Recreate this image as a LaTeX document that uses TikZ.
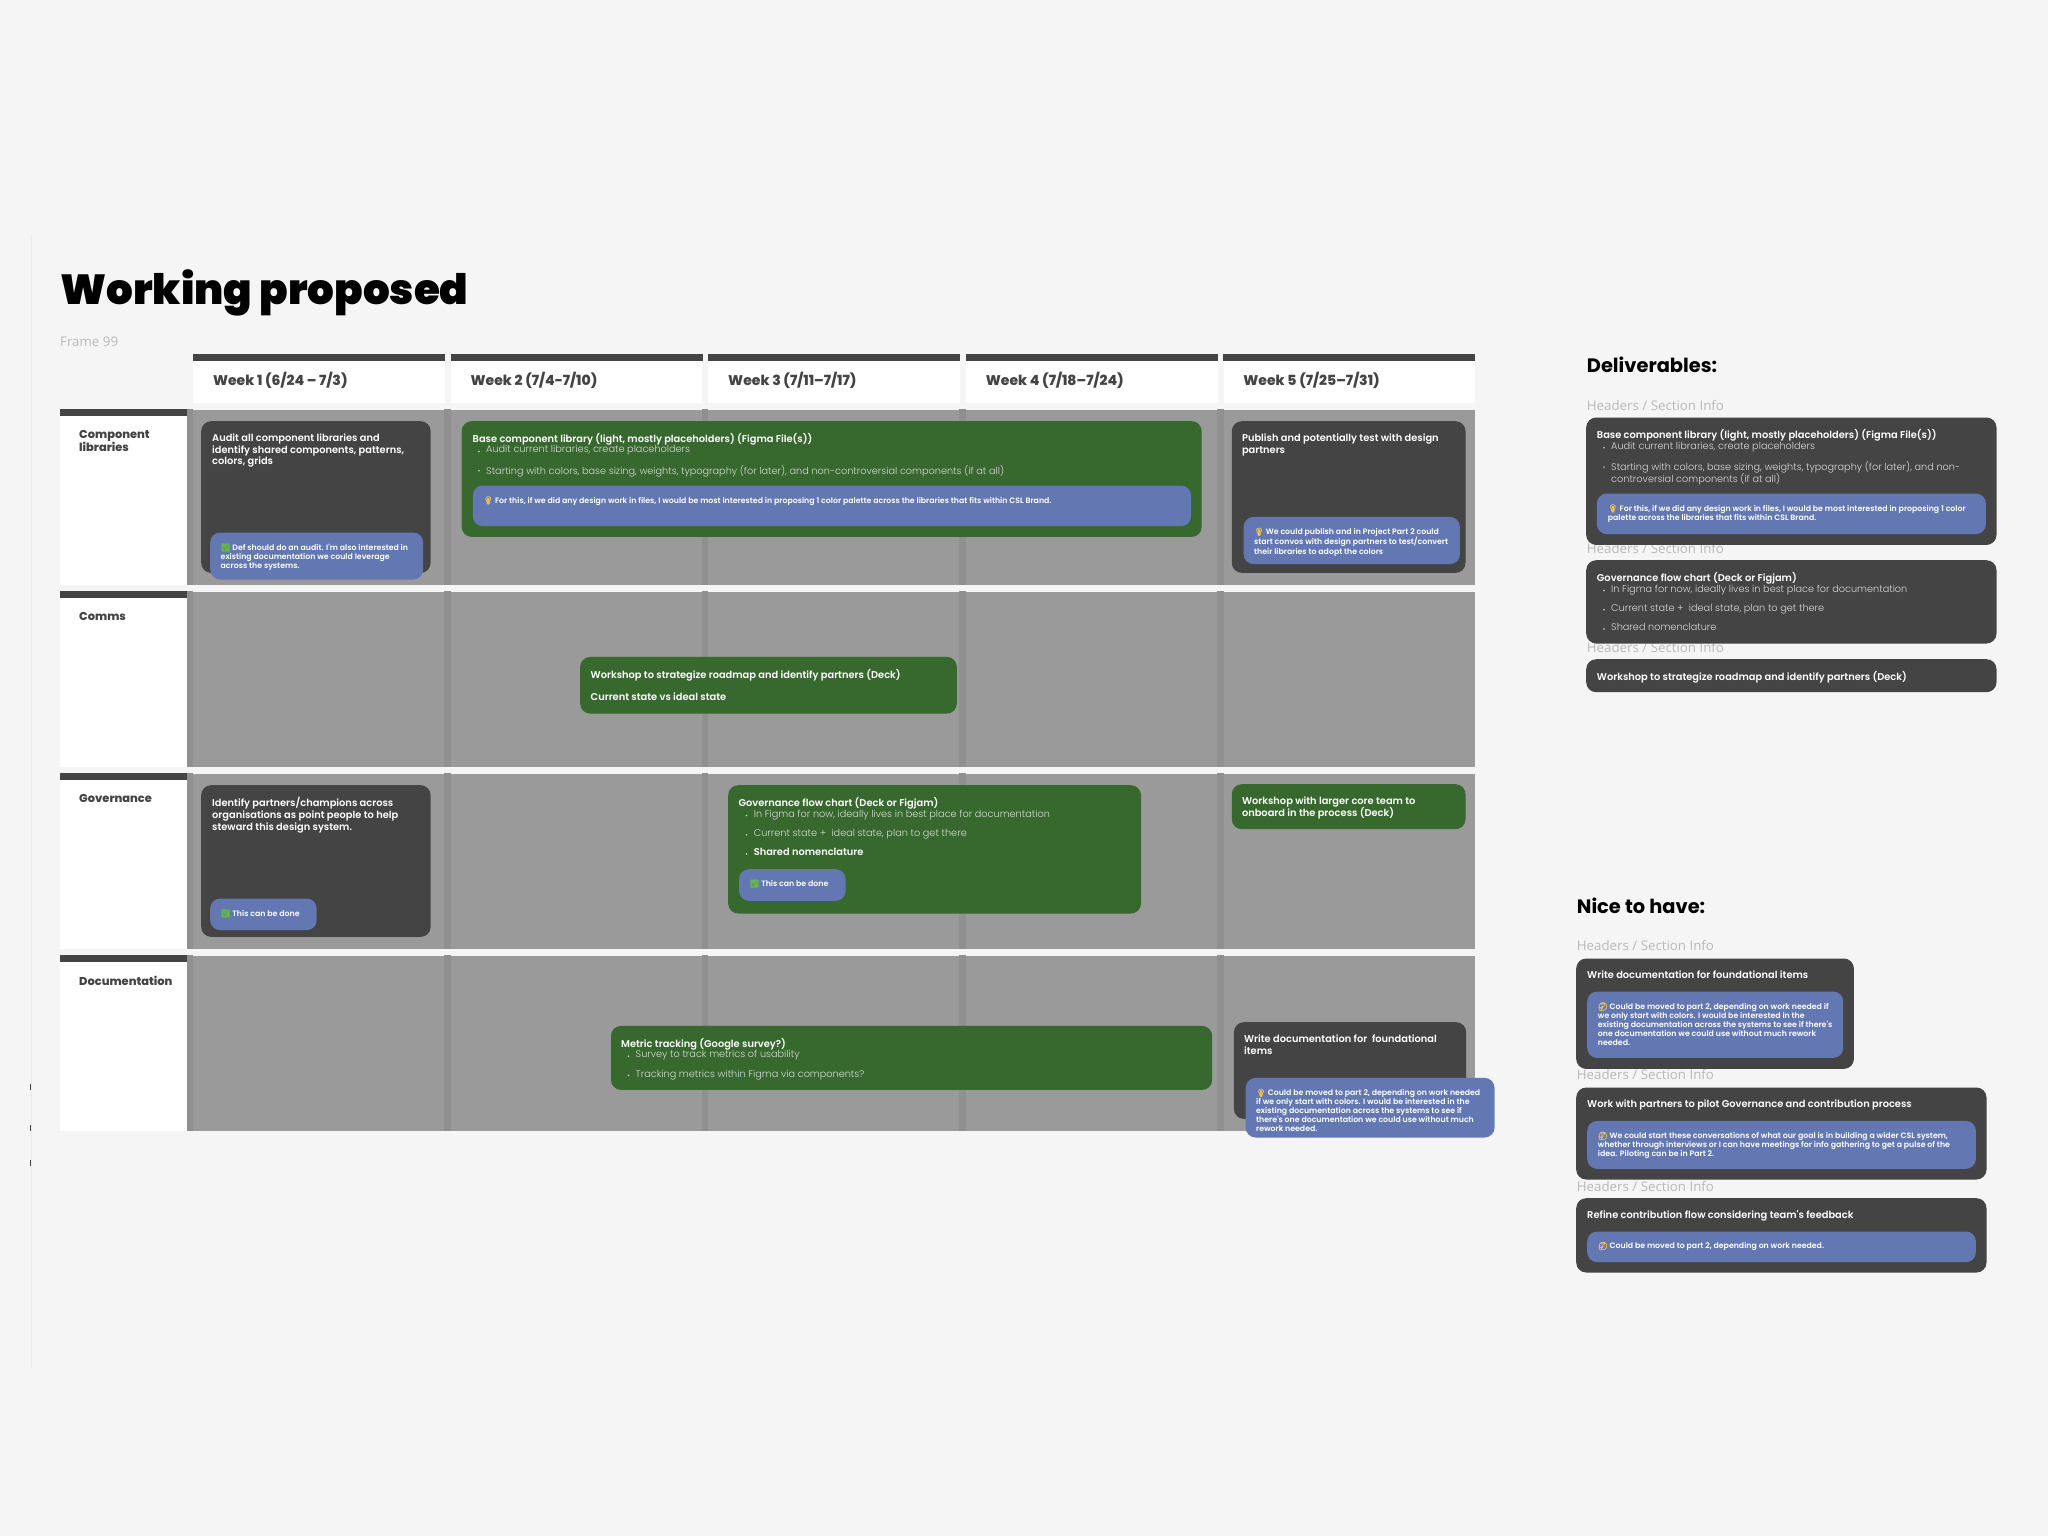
\documentclass[tikz,border=0pt]{standalone}
\usepackage{fontspec}
\setmainfont{Poppins}
\newfontfamily\emojifont{Noto Emoji}[RawFeature={embolden=3}]
\newfontfamily\semifont{Poppins SemiBold}
\newfontfamily\lightfont{Poppins Light}
\newfontfamily\extrafont{Poppins ExtraBold}
\newfontfamily\blackfont{Poppins Black}
\newfontfamily\sectionfont{Open Sans}
\usetikzlibrary{positioning}
\definecolor{pagebg}{HTML}{F5F5F5}
\definecolor{darkc}{HTML}{444444}
\definecolor{greenc}{HTML}{37682E}
\definecolor{bluec}{HTML}{6378B2}
\definecolor{rowc}{HTML}{9A9A9A}
\definecolor{bandc}{HTML}{909090}
\definecolor{mutedc}{HTML}{B8B8B8}
\definecolor{bulbc}{HTML}{F2C14E}
\definecolor{tickc}{HTML}{62B64A}
\newcommand{\bulb}{{\emojifont\color{bulbc}\symbol{"1F4A1}}}
\newcommand{\tick}{{\emojifont\color{tickc}\symbol{"2705}}}
\newcommand{\think}{{\emojifont\color{bulbc}\symbol{"1F914}}}
\begin{document}
\begin{tikzpicture}[x=1pt,y=-1pt]
    \tikzset{sized/.style 2 args={minimum width=#1pt,minimum height=#2pt},
        card/.style={rectangle,rounded corners=10pt,inner sep=0pt,anchor=north west},
        dcard/.style={card,fill=darkc},
        gcard/.style={card,fill=greenc},
        note/.style={card,fill=bluec},
        txt/.style={inner sep=0pt,anchor=north west,align=left,text=white},
        head/.style={txt,font=\semifont\fontsize{9.85}{11.8}\selectfont},
        item/.style={txt,text=white!85!black,font=\lightfont\fontsize{9.7}{12}\selectfont},
        ntxt/.style={txt,font=\semifont\fontsize{7.8}{9.1}\selectfont},
        week/.style={txt,text=darkc,anchor=west,font=\extrafont\fontsize{14}{16}\selectfont},
        rowlabel/.style={txt,text=darkc,font=\extrafont\fontsize{11.4}{13.3}\selectfont},
        section/.style={txt,text=mutedc,anchor=west,font=\sectionfont\fontsize{13.3}{15}\selectfont},
        bigh/.style={txt,text=black,anchor=base west,font=\bfseries\fontsize{19.4}{24}\selectfont},
        rowbox/.style={rectangle,fill=rowc,inner sep=0pt,anchor=north west},
        labelbox/.style={rectangle,fill=white,inner sep=0pt,anchor=north west,sized={127}{175.5}},
        listdot/.style={circle,fill=white!85!black,inner sep=0pt,minimum size=1.7pt},
        }
    \fill[pagebg] (0,0) rectangle (2048,1536);
    \useasboundingbox (0,0) rectangle (2048,1536);
    \draw[black!8,line width=1pt] (31.5,234) -- (31.5,1368);
    \foreach \ypos in {1084,1125,1160}
        \fill[darkc] (30,\ypos) rectangle (31,\ypos+6);

    \node [txt,text=black,anchor=base west,font=\blackfont\fontsize{42}{44}\selectfont] (title) at (60,304) {Working proposed};
    \node [section] (frame) at (60,342) {Frame 99};

%% week headers
    \foreach \name/\col/\label in {w1/0/{Week 1 (6/24 – 7/3)},w2/1/{Week 2 (7/4-7/10)},w3/2/{Week 3 (7/11–7/17)},w4/3/{Week 4 (7/18–7/24)},w5/4/{Week 5 (7/25–7/31)}} {
        \node [rectangle,fill=white,inner sep=0pt,anchor=north west,sized={251.5}{48.7}] (\name) at (193+257.6*\col,354) {};
        \fill[darkc] (\name.north west) rectangle ([yshift=-6.7pt]\name.north east);
        \node [week] (\name_txt) at (212.8+257.6*\col,380.7) {\label};
    }

%% rows
    \foreach \name/\ypos in {component/409.3,comms/591.3,governance/773.3,documentation/955.3} {
        \node [labelbox] (\name_lbl) at (59.6,\ypos) {};
        \fill[darkc] (\name_lbl.north west) rectangle ([yshift=-6.7pt]\name_lbl.north east);
        \node [rowbox,sized={1288.4}{175.5}] (\name) at (186.6,\ypos) {};
        \foreach \col in {0,...,4}
            \fill[bandc] ([xshift={(257.6*\col)*1pt}]\name.north west) rectangle ([xshift={(257.6*\col+6.5)*1pt}]\name.south west);
    }
    \node [rowlabel,below right=21pt and 19.4pt of component_lbl.north west] (component_txt) {Component\\libraries};
    \node [rowlabel,below right=21pt and 19.4pt of comms_lbl.north west] (comms_txt) {Comms};
    \node [rowlabel,below right=21pt and 19.4pt of governance_lbl.north west] (governance_txt) {Governance};
    \node [rowlabel,below right=21pt and 19.4pt of documentation_lbl.north west] (documentation_txt) {Documentation};

%% component libraries row
    \node [dcard,sized={229.4}{151.7}] (audit) at (201,421) {};
    \node [head,below right=12.3pt and 11pt of audit.north west] (audit_txt) {Audit all component libraries and\\identify shared components, patterns,\\colors, grids};
    \node [note,sized={213}{47}] (audit_note) at (210,532.3) {};
    \node [ntxt,below right=11pt and 10.5pt of audit_note.north west] (audit_ntxt) {\tick\ Def should do an audit. I'm also interested in\\existing documentation we could leverage\\across the systems.};

    \node [gcard,sized={740}{115.7}] (base) at (461.5,421) {};
    \node [head,below right=12.3pt and 11pt of base.north west] (base_txt) {Base component library (light, mostly placeholders) (Figma File(s))};
    \node [item,below right=24.5pt and 24.5pt of base.north west] (base_a) {Audit current libraries, create placeholders};
    \node [item,below right=43.8pt and 24.5pt of base.north west] (base_b) {Starting with colors, base sizing, weights, typography (for later), and non-controversial components (if at all)};
    \node [note,sized={718.2}{40.7}] (base_note) at (472.6,485.3) {};
    \node [ntxt,below right=11pt and 10.5pt of base_note.north west] (base_ntxt) {\bulb\ For this, if we did any design work in files, I would be most interested in proposing 1 color palette across the libraries that fits within CSL Brand.};

    \node [dcard,sized={233.7}{151.7}] (publish) at (1231.6,421) {};
    \node [head,below right=12.3pt and 10.2pt of publish.north west] (publish_txt) {Publish and potentially test with design\\partners};
    \node [note,sized={216.3}{47.3}] (publish_note) at (1243.4,516.7) {};
    \node [ntxt,below right=11pt and 10.5pt of publish_note.north west] (publish_ntxt) {\bulb\ We could publish and in Project Part 2 could\\start convos with design partners to test/convert\\their libraries to adopt the colors};

%% comms row
    \node [gcard,sized={376.6}{56.7}] (workshop) at (580,656.7) {};
    \node [head,below right=12pt and 10.5pt of workshop.north west] (workshop_txt) {Workshop to strategize roadmap and identify partners (Deck)};
    \node [head,below right=35.5pt and 10.5pt of workshop.north west] (workshop_sub) {Current state vs ideal state};

%% governance row
    \node [dcard,sized={229.4}{151.7}] (identify) at (201,785) {};
    \node [head,below right=12.3pt and 11pt of identify.north west] (identify_txt) {Identify partners/champions across\\organisations as point people to help\\steward this design system.};
    \node [note,sized={106.5}{31.7}] (identify_note) at (210,898.3) {};
    \node [ntxt,below right=11pt and 10.5pt of identify_note.north west] (identify_ntxt) {\tick\ This can be done};

    \node [gcard,sized={412.8}{128.3}] (flow) at (728,785) {};
    \node [head,below right=12pt and 10.3pt of flow.north west] (flow_txt) {Governance flow chart (Deck or Figjam)};
    \node [item,below right=24.5pt and 25.6pt of flow.north west] (flow_a) {In Figma for now, ideally lives in best place for documentation};
    \node [item,below right=43.8pt and 25.6pt of flow.north west] (flow_b) {Current state + \ ideal state, plan to get there};
    \node [head,below right=63pt and 25.6pt of flow.north west] (flow_c) {Shared nomenclature};
    \node [note,sized={106.6}{31.7}] (flow_note) at (738.8,869) {};
    \node [ntxt,below right=10.5pt and 10.5pt of flow_note.north west] (flow_ntxt) {\tick\ This can be done};

    \node [gcard,sized={233.7}{45}] (core) at (1231.6,784) {};
    \node [head,below right=12.3pt and 10.2pt of core.north west] (core_txt) {Workshop with larger core team to\\onboard in the process (Deck)};

%% documentation row
    \node [gcard,sized={601.2}{64}] (metric) at (610.8,1025.7) {};
    \node [head,below right=12pt and 10.2pt of metric.north west] (metric_txt) {Metric tracking (Google survey?)};
    \node [item,below right=24.5pt and 24.7pt of metric.north west] (metric_a) {Survey to track metrics of usability};
    \node [item,below right=43.8pt and 24.7pt of metric.north west] (metric_b) {Tracking metrics within Figma via components?};

    \node [dcard,sized={232.3}{96.7}] (write) at (1233.7,1022) {};
    \node [head,below right=12.3pt and 10.2pt of write.north west] (write_txt) {Write documentation for \ foundational\\items};
    \node [note,sized={249}{59.6}] (write_note) at (1245.4,1077.7) {};
    \node [ntxt,below right=11pt and 10.5pt of write_note.north west] (write_ntxt) {\bulb\ Could be moved to part 2, depending on work needed\\if we only start with colors. I would be interested in the\\existing documentation across the systems to see if\\there's one documentation we could use without much\\rework needed.};

%% deliverables
    \node [bigh] (deliver) at (1586.7,372.7) {Deliverables:};
    \node [section] (deliver_s1) at (1586.7,405.7) {Headers / Section Info};
    \node [section] (deliver_s2) at (1586.7,548.3) {Headers / Section Info};
    \node [section] (deliver_s3) at (1586.7,647.3) {Headers / Section Info};

    \node [dcard,sized={410.3}{127.4}] (d_base) at (1586,417.3) {};
    \node [head,below right=12pt and 10.7pt of d_base.north west] (d_base_txt) {Base component library (light, mostly placeholders) (Figma File(s))};
    \node [item,below right=24.5pt and 25pt of d_base.north west] (d_base_a) {Audit current libraries, create placeholders};
    \node [item,below right=43.8pt and 25pt of d_base.north west] (d_base_b) {Starting with colors, base sizing, weights, typography (for later), and non-\\controversial components (if at all)};
    \node [note,sized={389}{40.7}] (d_base_note) at (1596.7,493.3) {};
    \node [ntxt,below right=11pt and 11pt of d_base_note.north west] (d_base_ntxt) {\bulb\ For this, if we did any design work in files, I would be most interested in proposing 1 color\\palette across the libraries that fits within CSL Brand.};

    \node [dcard,sized={410.3}{83.3}] (d_flow) at (1586,560) {};
    \node [head,below right=12pt and 10.7pt of d_flow.north west] (d_flow_txt) {Governance flow chart (Deck or Figjam)};
    \node [item,below right=24.5pt and 25pt of d_flow.north west] (d_flow_a) {In Figma for now, ideally lives in best place for documentation};
    \node [item,below right=43.8pt and 25pt of d_flow.north west] (d_flow_b) {Current state + \ ideal state, plan to get there};
    \node [item,below right=63pt and 25pt of d_flow.north west] (d_flow_c) {Shared nomenclature};

    \node [dcard,sized={410.3}{33}] (d_work) at (1586,659) {};
    \node [head,below right=12pt and 10.7pt of d_work.north west] (d_work_txt) {Workshop to strategize roadmap and identify partners (Deck)};

%% nice to have
    \node [bigh] (nice) at (1576.7,913.3) {Nice to have:};
    \node [section] (nice_s1) at (1576.7,945.7) {Headers / Section Info};
    \node [section] (nice_s2) at (1576.7,1074.7) {Headers / Section Info};
    \node [section] (nice_s3) at (1576.7,1186) {Headers / Section Info};

    \node [dcard,sized={277.7}{110.4}] (n_write) at (1576,958.3) {};
    \node [head,below right=12pt and 11pt of n_write.north west] (n_write_txt) {Write documentation for foundational items};
    \node [note,sized={256}{66.4}] (n_write_note) at (1587,991.3) {};
    \node [ntxt,below right=11pt and 10.7pt of n_write_note.north west] (n_write_ntxt) {\think\ Could be moved to part 2, depending on work needed if\\we only start with colors. I would be interested in the\\existing documentation across the systems to see if there's\\one documentation we could use without much rework\\needed.};

    \node [dcard,sized={410.3}{92}] (n_pilot) at (1576,1087.3) {};
    \node [head,below right=12pt and 11pt of n_pilot.north west] (n_pilot_txt) {Work with partners to pilot Governance and contribution process};
    \node [note,sized={388.7}{48}] (n_pilot_note) at (1587,1120.7) {};
    \node [ntxt,below right=11pt and 10.7pt of n_pilot_note.north west] (n_pilot_ntxt) {\think\ We could start these conversations of what our goal is in building a wider CSL system,\\whether through interviews or I can have meetings for info gathering to get a pulse of the\\idea. Piloting can be in Part 2.};

    \node [dcard,sized={410.3}{74.3}] (n_refine) at (1576,1198) {};
    \node [head,below right=12pt and 11pt of n_refine.north west] (n_refine_txt) {Refine contribution flow considering team's feedback};
    \node [note,sized={388.7}{30.7}] (n_refine_note) at (1587,1231.3) {};
    \node [ntxt,below right=10.5pt and 10.7pt of n_refine_note.north west] (n_refine_ntxt) {\think\ Could be moved to part 2, depending on work needed.};

%% list dots
    \foreach \target in {base_a,base_b,flow_a,flow_b,flow_c,metric_a,metric_b,d_base_a,d_base_b,d_flow_a,d_flow_b,d_flow_c}
        \node [listdot,left=6pt of \target.north west,yshift=-6pt] (\target_dot) {};
\end{tikzpicture}
\end{document}
